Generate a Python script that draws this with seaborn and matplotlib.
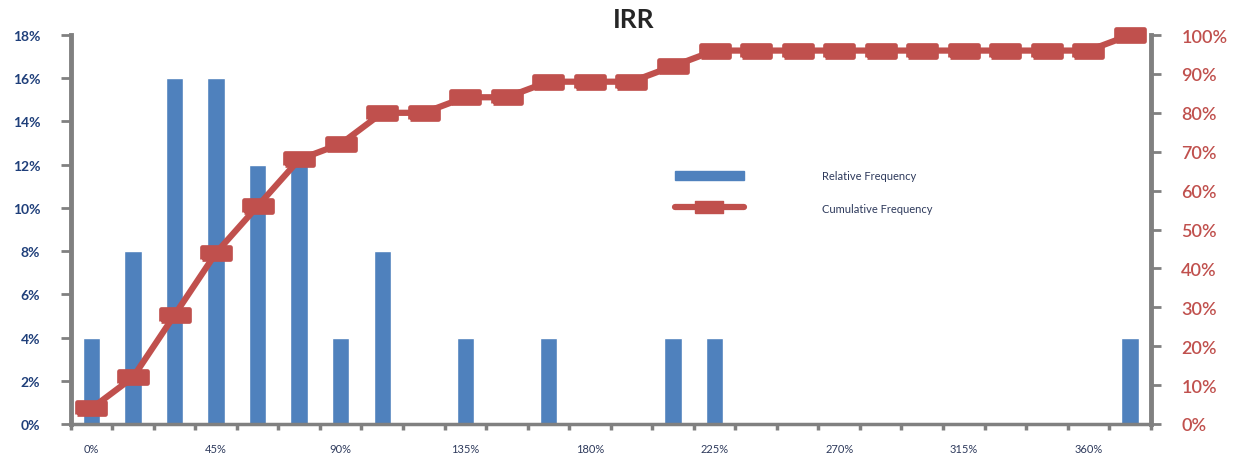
import numpy as np
import pandas as pd
import seaborn as sns
import matplotlib.pyplot as plt
from matplotlib.lines import Line2D
from matplotlib.patches import Patch
from matplotlib.ticker import FixedLocator, PercentFormatter

# IRR bins (15% steps) and frequencies
bins = [f"{v}%" for v in range(0, 390, 15)]
relative_freq = [0.04, 0.08, 0.16, 0.16, 0.12, 0.12, 0.04, 0.08, 0.00, 0.04,
                 0.00, 0.04, 0.00, 0.00, 0.04, 0.04, 0.00, 0.00, 0.00, 0.00,
                 0.00, 0.00, 0.00, 0.00, 0.00, 0.04]
cumulative_freq = [0.04, 0.12, 0.28, 0.44, 0.56, 0.68, 0.72, 0.80, 0.80, 0.84,
                   0.84, 0.88, 0.88, 0.88, 0.92, 0.96, 0.96, 0.96, 0.96, 0.96,
                   0.96, 0.96, 0.96, 0.96, 0.96, 1.00]
label_every = 3

df = pd.DataFrame({'bin': bins, 'rel': relative_freq, 'cum': cumulative_freq})

sns.set_style('white')
plt.rcParams['font.family'] = ['Lato', 'DejaVu Sans']

blue = '#4F81BD'
red = '#C0504D'
gray = '#808080'

fig, ax = plt.subplots(figsize=(12.4, 4.56), dpi=100)
fig.subplots_adjust(left=0.057, right=0.928, top=0.921, bottom=0.068)

sns.barplot(data=df, x='bin', y='rel', order=bins, color=blue, width=0.42,
            saturation=1, ax=ax)

ax2 = ax.twinx()
rect = [(-1.2, -0.5), (1.2, -0.5), (1.2, 0.5), (-1.2, 0.5), (-1.2, -0.5)]
sns.pointplot(data=df, x='bin', y='cum', order=bins, color=red, marker=rect,
              markersize=20, linewidth=4.5, ax=ax2)
for ln in ax2.lines:
    ln.set_markeredgecolor(red)
    ln.set_clip_on(False)

n = len(bins)
for a in (ax, ax2):
    a.set_xlim(-0.5, n - 0.5)
    a.set_xlabel('')
    a.set_ylabel('')

ax.set_ylim(0, 0.18)
ax.set_yticks(np.arange(0, 0.181, 0.02))
ax.yaxis.set_major_formatter(PercentFormatter(1.0, decimals=0))
ax2.set_ylim(0, 1.0)
ax2.set_yticks(np.arange(0, 1.01, 0.1))
ax2.yaxis.set_major_formatter(PercentFormatter(1.0, decimals=0))

# x labels every 45%, tick marks on bin boundaries
ax.set_xticks(range(0, n, label_every))
ax.set_xticklabels(bins[::label_every])
ax.xaxis.set_minor_locator(FixedLocator(np.arange(-0.5, n, 1.0)))
ax.tick_params(axis='x', which='major', length=0, pad=14, labelsize=8,
               labelcolor='#2E3A5C')
ax.tick_params(axis='x', which='minor', length=4, width=2.5, color=gray,
               direction='out', bottom=True)
ax.tick_params(axis='y', length=7, width=2, color=gray, direction='out',
               left=True, labelsize=10, labelcolor='#1F3F7A', pad=15)
for t in ax.get_yticklabels():
    t.set_fontweight('bold')
ax2.tick_params(axis='y', length=7, width=2, color=gray, direction='out',
                right=True, labelsize=13, labelcolor=red, pad=15)
for t in ax2.get_yticklabels():
    t.set_fontweight('semibold')

ax.spines['top'].set_visible(False)
ax2.spines['top'].set_visible(False)
ax.spines['right'].set_visible(False)
ax2.spines['left'].set_visible(False)
ax2.spines['bottom'].set_visible(False)
ax.spines['left'].set_color(gray)
ax.spines['left'].set_linewidth(3.5)
ax.spines['bottom'].set_color(gray)
ax.spines['bottom'].set_linewidth(2.5)
ax2.spines['right'].set_color(gray)
ax2.spines['right'].set_linewidth(3.5)

ax.set_title('IRR', fontsize=19, fontweight='bold', pad=6, x=0.521)

handles = [Patch(facecolor=blue, edgecolor=blue),
           Line2D([], [], color=red, linewidth=4.5, marker=rect, markersize=20,
                  markeredgecolor=red)]
leg = fig.legend(handles, ['Relative Frequency', 'Cumulative Frequency'],
                 loc='center left', bbox_to_anchor=(675 / 1240, 1 - 193 / 456),
                 frameon=False, fontsize=8, handlelength=6.2, handleheight=0.9,
                 handletextpad=7, labelspacing=1.9, borderpad=0, borderaxespad=0,
                 labelcolor='#2E3A5C')

fig.savefig('out.png', dpi=100)
